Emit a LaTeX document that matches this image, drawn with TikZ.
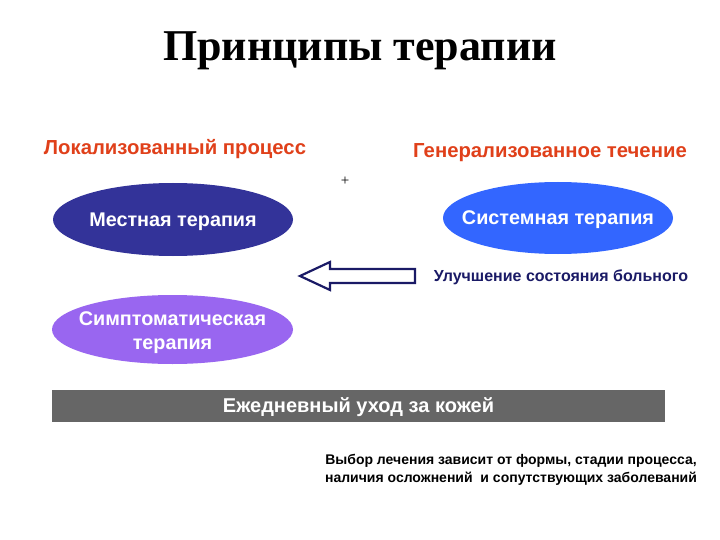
\documentclass[tikz,border=0pt]{standalone}
\usepackage{fontspec}
\setmainfont{Liberation Serif}
\setsansfont{Liberation Sans}
\usetikzlibrary{shapes.geometric}
\definecolor{navy}{HTML}{333399}
\definecolor{sysblue}{HTML}{3366FF}
\definecolor{lav}{HTML}{9966F0}
\definecolor{orred}{HTML}{E0401A}
\definecolor{bargray}{HTML}{666666}
\definecolor{darknavy}{HTML}{1A1A66}
\tikzset{
  oval/.style={ellipse, draw=none, inner sep=0pt},
  ovaltext/.style={text=white, inner sep=0pt, align=center,
    font=\sffamily\bfseries\fontsize{19.8}{24}\selectfont},
  heading/.style={text=orred, inner sep=0pt, font=\sffamily\bfseries\fontsize{20.3}{22}\selectfont},
}
\begin{document}
\begin{tikzpicture}[x=1pt,y=-1pt]
\useasboundingbox[fill=white] (0,0) rectangle (720,540);
\node[font=\bfseries\fontsize{44}{48}\selectfont, inner sep=0pt] (title) at (360,51) {Принципы терапии};
\node[heading] (loc) at (175,149) {Локализованный процесс};
\node[heading] (gen) at (550,153) {Генерализованное течение};
\node[inner sep=0pt, font=\fontsize{15}{16}\selectfont] (plus) at (345,181) {+};
\node[oval, fill=navy, minimum width=240, minimum height=73] (local) at (173,219.5) {};
\node[ovaltext] (localt) at ([yshift=-2.5]local.center) {Местная терапия};
\node[oval, fill=sysblue, minimum width=230, minimum height=72] (sys) at (558,218) {};
\node[ovaltext] (syst) at ([yshift=-1.5]sys.center) {Системная терапия};
\node[oval, fill=lav, minimum width=241, minimum height=69] (sym) at (172.5,329.5) {};
\node[ovaltext] (symt) at ([yshift=-3]sym.center) {Симптоматическая\\терапия};
\node[inner sep=0pt, text=darknavy, font=\sffamily\bfseries\fontsize{16}{18}\selectfont] (impr) at (561,277) {Улучшение состояния больного};
\coordinate (tip) at (300,276);
\draw[darknavy, line width=2.2pt, line join=miter] (tip) -- (330,262) -- (330,269) -- (415,269) -- (415,283) -- (330,283) -- (330,290) -- cycle;
\node[fill=bargray, minimum width=613, minimum height=32, inner sep=0pt] (bar) at (358.5,406) {};
\node[inner sep=0pt, text=white, font=\sffamily\bfseries\fontsize{20}{22}\selectfont] (bart) at ([yshift=-1]bar.center) {Ежедневный уход за кожей};
\node[inner sep=0pt, align=center, font=\sffamily\bfseries\fontsize{14}{18}\selectfont] (note) at (511,470) {Выбор лечения зависит от формы, стадии процесса,\\наличия осложнений\ \ и сопутствующих заболеваний};
\end{tikzpicture}
\end{document}
